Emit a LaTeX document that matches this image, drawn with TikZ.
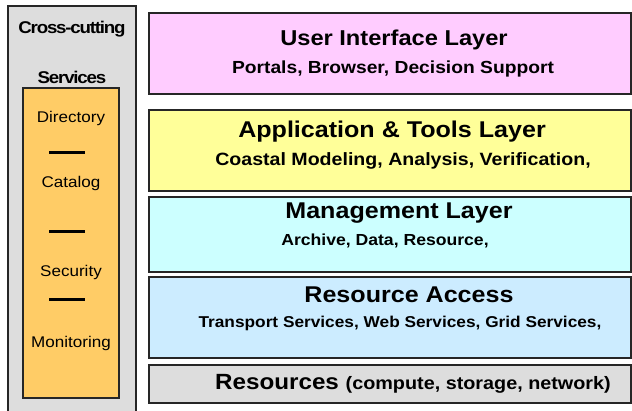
\documentclass[tikz,border=0pt]{standalone}
\usepackage{fontspec}
\setmainfont[FakeStretch=1.1]{Liberation Sans}
\definecolor{pinkc}{HTML}{FFCCFF}
\definecolor{yellowc}{HTML}{FFFF99}
\definecolor{cyanc}{HTML}{CCFFFF}
\definecolor{bluec}{HTML}{CCECFF}
\definecolor{grayc}{HTML}{DDDDDD}
\definecolor{orangec}{HTML}{FFCC66}
\newcommand{\fs}[1]{\fontsize{#1}{#1}\selectfont}
\begin{document}
\begin{tikzpicture}[x=1pt,y=-1pt,
  box/.style={draw=black!85, line width=1.3pt, anchor=north west, inner sep=0pt, outer sep=0pt},
  ttl/.style={inner sep=0pt, font=\bfseries\fs{22.8}},
  sub/.style={inner sep=0pt, font=\bfseries\fs{16}},
  svc/.style={inner sep=0pt, font=\fs{15.5}},
  cc/.style={inner sep=0pt, font=\bfseries\fs{17}\addfontfeature{LetterSpace=-7}},
  bar/.style={line width=3pt, black}]
\useasboundingbox (0,0) rectangle (632,411);
\fill[white] (0,0) rectangle (632,411);
% left cross-cutting panel
\node[box, fill=grayc, minimum width=128pt, minimum height=410pt] (ccbox) at (8,6) {};
\node[box, fill=orangec, minimum width=96pt, minimum height=310pt] (svcbox) at (23,88) {};
\node[cc] (t1) at (72,29) {Cross-cutting};
\node[cc] (t2) at (72,77) {Services};
\node[svc] (dir) at (71,118) {Directory};
\node[svc] (cat) at (71,183) {Catalog};
\node[svc] (sec) at (71,272) {Security};
\node[svc] (mon) at (71,343) {Monitoring};
\draw[bar] (49,153) -- (85,153);
\draw[bar] (49,232) -- (85,232);
\draw[bar] (49,300) -- (85,300);
% layers
\node[box, fill=pinkc, minimum width=482pt, minimum height=81pt] (ui) at (149,13) {};
\node[box, fill=yellowc, minimum width=482pt, minimum height=81pt] (app) at (149,110) {};
\node[box, fill=cyanc, minimum width=482pt, minimum height=75pt] (mgmt) at (149,197) {};
\node[box, fill=bluec, minimum width=482pt, minimum height=81pt] (ra) at (149,277) {};
\node[box, fill=grayc, minimum width=482pt, minimum height=38pt] (res) at (149,365) {};
% texts
\node[ttl, font=\bfseries\fs{21.5}] (uit) at (394,40) {User Interface Layer};
\node[sub, font=\bfseries\fs{17.5}] (uis) at (393,69) {Portals, Browser, Decision Support};
\node[ttl] (appt) at (392,132) {Application \& Tools Layer};
\node[sub, font=\bfseries\fs{17.8}] (apps) at (403,161) {Coastal Modeling, Analysis, Verification,};
\node[ttl] (mgmtt) at (399,213) {Management Layer};
\node[sub] (mgmts) at (385,241) {Archive, Data, Resource,};
\node[ttl] (rat) at (409,295) {Resource Access};
\node[sub, font=\bfseries\fs{15.7}] (ras) at (400,323) {Transport Services, Web Services, Grid Services,};
\node[inner sep=0pt] (rest) at (413,384) {\bfseries\fs{22}Resources \fs{18}(compute, storage, network)};
\end{tikzpicture}
\end{document}
